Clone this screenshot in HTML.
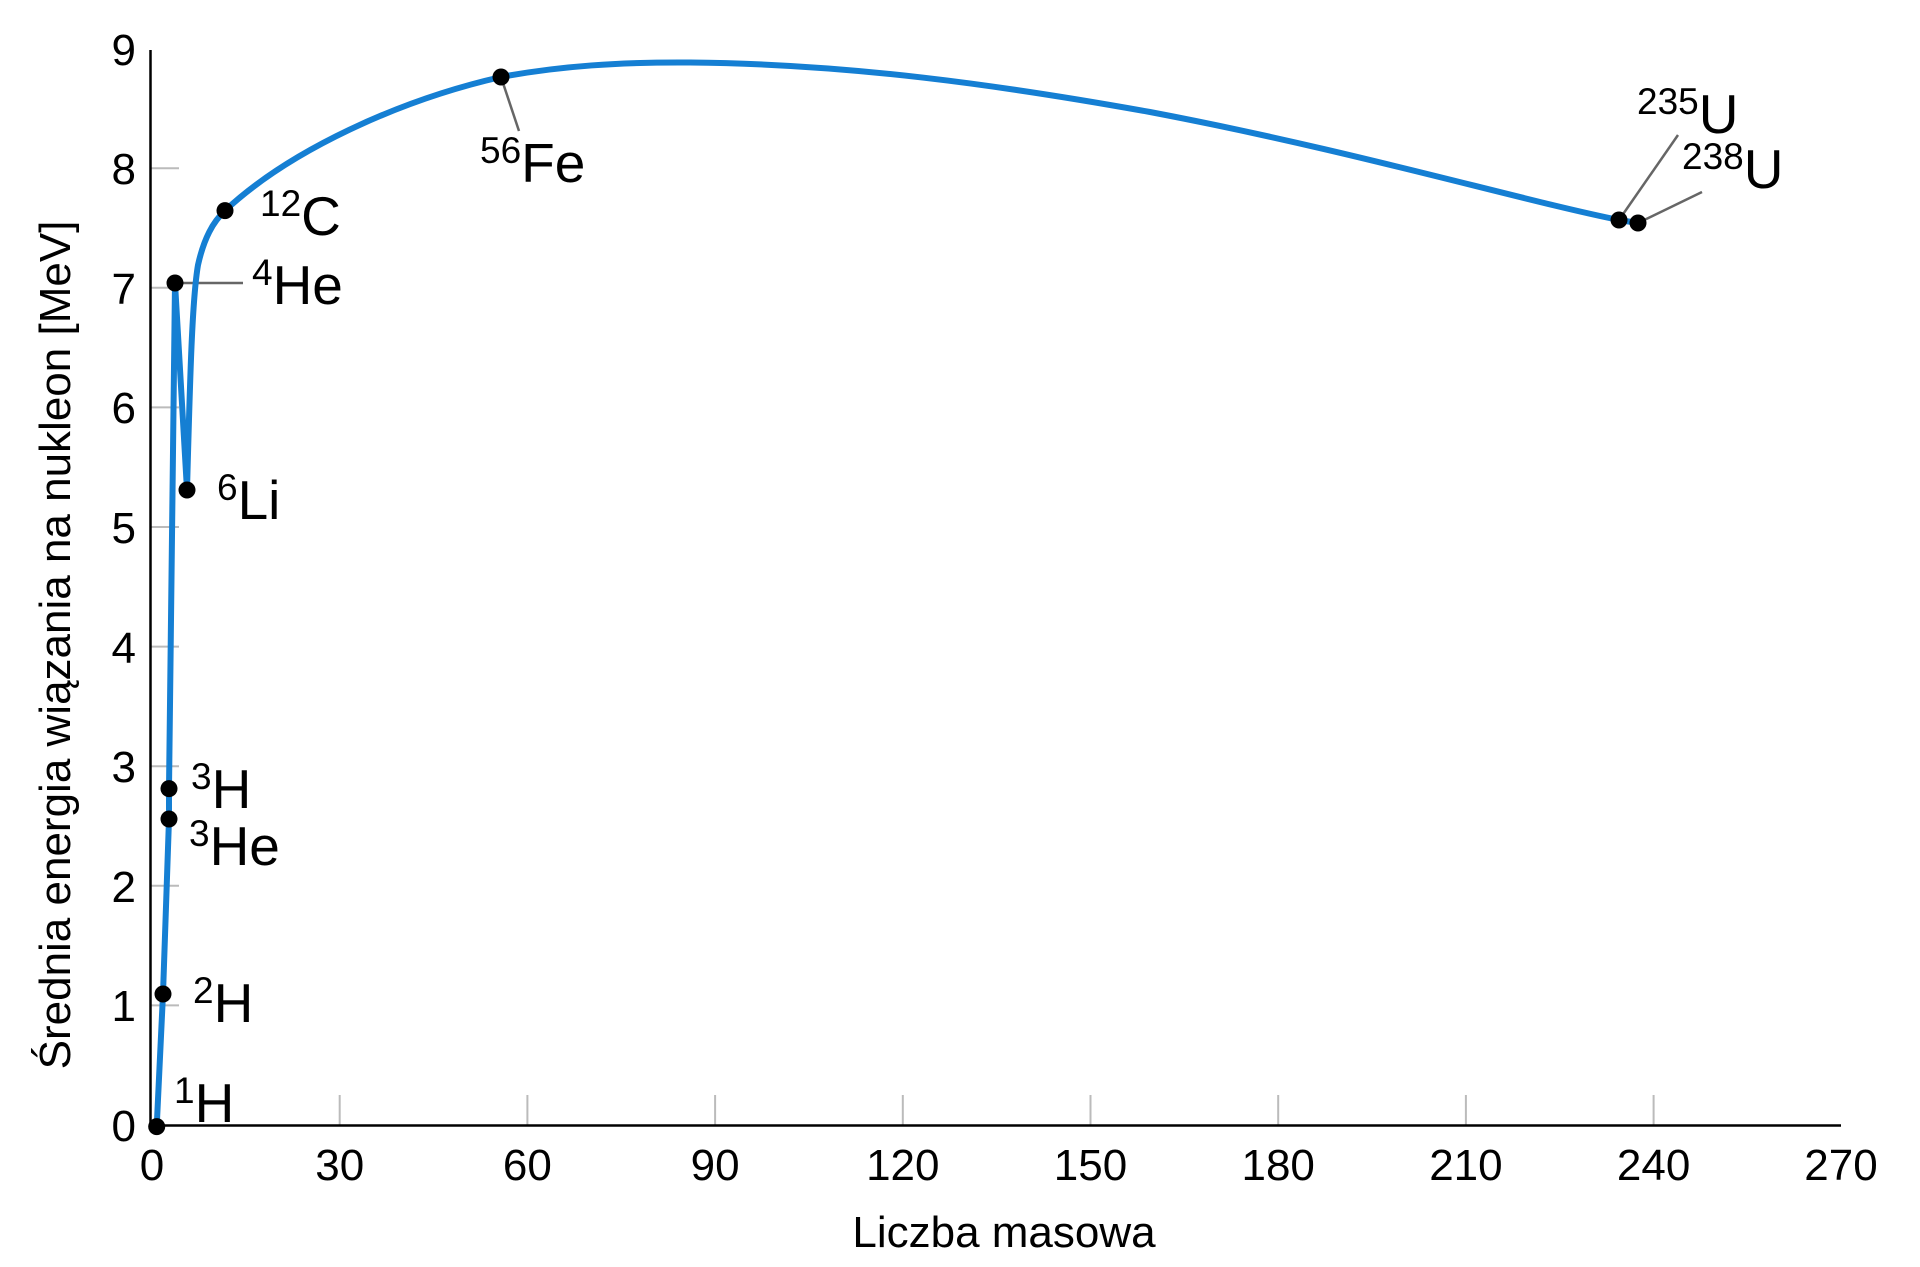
<!DOCTYPE html>
<html><head><meta charset="utf-8"><style>
html,body{margin:0;padding:0;background:#fff;}
svg{display:block;font-family:"Liberation Sans","DejaVu Sans",sans-serif;}
</style></head><body>
<svg width="1920" height="1267" viewBox="0 0 1920 1267" xmlns="http://www.w3.org/2000/svg">
<g stroke="#bbb" stroke-width="2">
<line x1="150" y1="1005.4" x2="179" y2="1005.4"/>
<line x1="150" y1="885.8" x2="179" y2="885.8"/>
<line x1="150" y1="766.2" x2="179" y2="766.2"/>
<line x1="150" y1="646.6" x2="179" y2="646.6"/>
<line x1="150" y1="527" x2="179" y2="527"/>
<line x1="150" y1="407.4" x2="179" y2="407.4"/>
<line x1="150" y1="287.8" x2="179" y2="287.8"/>
<line x1="150" y1="168.2" x2="179" y2="168.2"/>
<line x1="339.7" y1="1095" x2="339.7" y2="1125"/>
<line x1="527.4" y1="1095" x2="527.4" y2="1125"/>
<line x1="715.1" y1="1095" x2="715.1" y2="1125"/>
<line x1="902.8" y1="1095" x2="902.8" y2="1125"/>
<line x1="1090.5" y1="1095" x2="1090.5" y2="1125"/>
<line x1="1278.2" y1="1095" x2="1278.2" y2="1125"/>
<line x1="1465.9" y1="1095" x2="1465.9" y2="1125"/>
<line x1="1653.6" y1="1095" x2="1653.6" y2="1125"/>
</g>
<g stroke="#000" stroke-width="2.5">
<line x1="150.5" y1="50" x2="150.5" y2="1126"/>
<line x1="149" y1="1125.5" x2="1841" y2="1125.5"/>
</g>
<g font-size="44" fill="#000" text-anchor="end">
<text x="136" y="1141">0</text><text x="136" y="1021">1</text><text x="136" y="902">2</text>
<text x="136" y="782">3</text><text x="136" y="663">4</text><text x="136" y="543">5</text>
<text x="136" y="423">6</text><text x="136" y="304">7</text><text x="136" y="184">8</text>
<text x="136" y="65">9</text>
</g>
<g font-size="44" fill="#000" text-anchor="middle">
<text x="152" y="1180">0</text><text x="339.7" y="1180">30</text><text x="527.4" y="1180">60</text>
<text x="715.1" y="1180">90</text><text x="902.8" y="1180">120</text><text x="1090.5" y="1180">150</text>
<text x="1278.2" y="1180">180</text><text x="1465.9" y="1180">210</text><text x="1653.6" y="1180">240</text>
<text x="1841" y="1180">270</text>
<text x="1004" y="1247">Liczba masowa</text>
<text transform="translate(70,645) rotate(-90)">Średnia energia wiązania na nukleon [MeV]</text>
</g>
<g stroke="#666" stroke-width="2.5" fill="none">
<line x1="175" y1="283" x2="243" y2="283"/>
<line x1="501" y1="77" x2="519" y2="131"/>
<line x1="1619" y1="220" x2="1678" y2="135"/>
<line x1="1638" y1="223" x2="1702" y2="192"/>
</g>
<path d="M156.7,1126.6 L163,994 L169,819 L169,788.6 L175,283 L187,490 C190,380 192,300 198,265 C204,238 213,222 225,210.6 C290,150 400,100 501,77 C560,66 620,62 690,62.5 C850,64 1000,85 1150,112 C1350,150 1520,200 1619,220 L1638,223" fill="none" stroke="#157fd3" stroke-width="6" stroke-linejoin="round"/>
<g fill="#000">
<circle cx="156.7" cy="1126.6" r="8.5"/><circle cx="163" cy="994" r="8.5"/>
<circle cx="169" cy="819" r="8.5"/><circle cx="169" cy="788.6" r="8.5"/>
<circle cx="175" cy="283" r="8.5"/><circle cx="187" cy="490" r="8.5"/>
<circle cx="225" cy="210.6" r="8.5"/><circle cx="501" cy="77" r="8.5"/>
<circle cx="1619" cy="220" r="8.5"/><circle cx="1638" cy="223" r="8.5"/>
</g>
<g font-size="55" fill="#000">
<text x="174" y="1122"><tspan font-size="37" dy="-19">1</tspan><tspan dy="19">H</tspan></text>
<text x="193" y="1022"><tspan font-size="37" dy="-19">2</tspan><tspan dy="19">H</tspan></text>
<text x="189" y="865"><tspan font-size="37" dy="-19">3</tspan><tspan dy="19">He</tspan></text>
<text x="191" y="808"><tspan font-size="37" dy="-19">3</tspan><tspan dy="19">H</tspan></text>
<text x="217" y="519"><tspan font-size="37" dy="-19">6</tspan><tspan dy="19">Li</tspan></text>
<text x="252" y="304"><tspan font-size="37" dy="-19">4</tspan><tspan dy="19">He</tspan></text>
<text x="260" y="235"><tspan font-size="37" dy="-19">12</tspan><tspan dy="19">C</tspan></text>
<text x="480" y="182"><tspan font-size="37" dy="-19">56</tspan><tspan dy="19">Fe</tspan></text>
<text x="1637" y="133"><tspan font-size="37" dy="-19">235</tspan><tspan dy="19">U</tspan></text>
<text x="1682" y="188"><tspan font-size="37" dy="-19">238</tspan><tspan dy="19">U</tspan></text>
</g>
</svg>
</body></html>
